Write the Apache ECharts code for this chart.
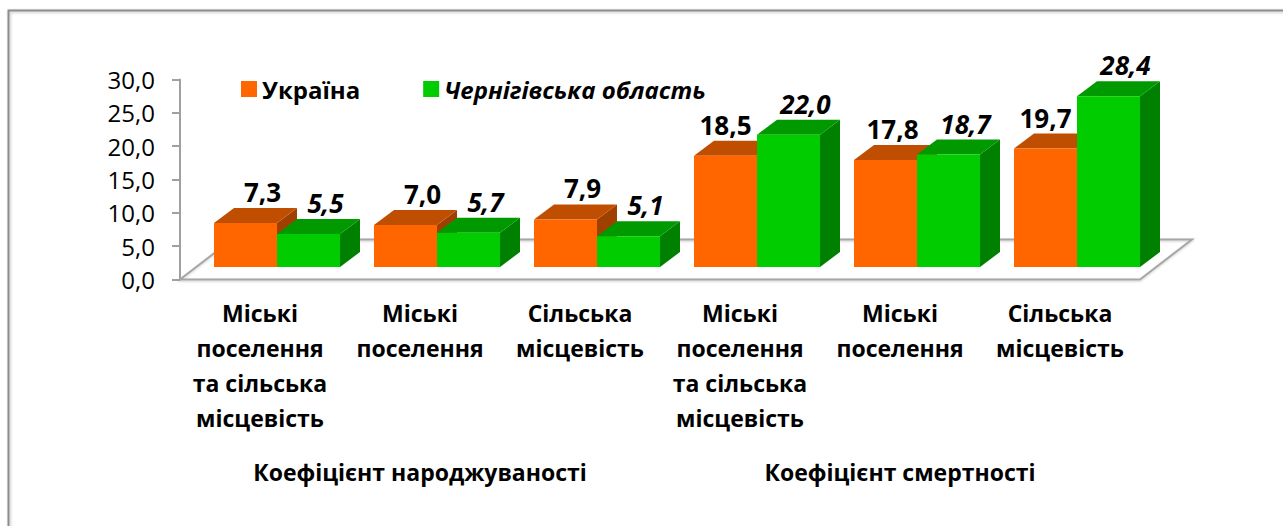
<!DOCTYPE html>
<html><head><meta charset="utf-8">
<script src="https://cdn.jsdelivr.net/npm/echarts@6/dist/echarts.min.js"></script>
<style>html,body{margin:0;padding:0;background:#fff}#c{width:1283px;height:526px}</style>
</head><body><div id="c"></div>
<script>
const categories = [
  'Міські\nпоселення\nта сільська\nмісцевість',
  'Міські\nпоселення',
  'Сільська\nмісцевість',
  'Міські\nпоселення\nта сільська\nмісцевість',
  'Міські\nпоселення',
  'Сільська\nмісцевість'
];
const groups = ['Коефіцієнт народжуваності', 'Коефіцієнт смертності'];
const seriesNames = ['Україна', 'Чернігівська область'];
const ukraine = [7.3, 7.0, 7.9, 18.5, 17.8, 19.7];
const chernihiv = [5.5, 5.7, 5.1, 22.0, 18.7, 28.4];
const yTickLabels = ['0,0', '5,0', '10,0', '15,0', '20,0', '25,0', '30,0'];

const FONT = '"Open Sans", "Noto Sans", sans-serif';
const BAR_W = 63 / 160;   // bar width as share of category
const DX = 20, DY = 15;   // bar depth
const FDX = 52, FDY = 40; // floor depth
const fmt = v => v.toFixed(1).replace('.', ',');

function makeRender(left, cFront, cTop, cSide, italic, layer) {
  return function (params, api) {
    const i = api.value(0), v = api.value(1);
    const p = api.coord([i, v]), b = api.coord([i, 0]);
    const w = api.size([1, 0])[0] * BAR_W;
    const x0 = left ? p[0] - w : p[0];
    const x1 = x0 + w, yt = p[1], yb = b[1];
    let shift = 17;
    if (left) {
      const other = chernihiv[i];
      if (other > v + 2) shift = 0; else if (other > v) shift = 7;
    }
    return {
      type: 'group',
      children: [
        { type: 'polygon', z2: layer, shape: { points: [[x1, yt], [x1 + DX, yt - DY], [x1 + DX, yb - DY], [x1, yb]] }, style: { fill: cSide } },
        { type: 'polygon', z2: layer, shape: { points: [[x0, yt], [x0 + DX, yt - DY], [x1 + DX, yt - DY], [x1, yt]] }, style: { fill: cTop } },
        { type: 'rect', z2: layer, shape: { x: x0, y: yt, width: w, height: yb - yt }, style: { fill: cFront } },
        { type: 'text', z2: 50, x: (x0 + x1) / 2 + shift, y: yt - DY - 3,
          style: { text: fmt(v), fill: '#000', fontFamily: FONT, fontSize: 26, fontWeight: 'bold',
                   fontStyle: italic ? 'italic' : 'normal', align: 'center', verticalAlign: 'bottom' } }
      ]
    };
  };
}

const chart = echarts.init(document.getElementById('c'), null, { renderer: 'svg' });
chart.setOption({
  animation: false,
  backgroundColor: '#fff',
  graphic: [{
    type: 'rect', left: 6, top: 8, shape: { width: 1300, height: 600 },
    style: { fill: 'none', stroke: '#8C8C8C', lineWidth: 2, shadowBlur: 3, shadowColor: 'rgba(0,0,0,0.25)', shadowOffsetX: 1, shadowOffsetY: 1 },
    z: -10
  }],
  legend: {
    left: 236, top: 72, itemWidth: 16, itemHeight: 16, itemGap: 63, icon: 'rect',
    textStyle: { fontFamily: FONT, fontSize: 24, fontWeight: 'bold', color: '#000' },
    data: [
      { name: seriesNames[0] },
      { name: seriesNames[1], textStyle: { fontStyle: 'italic' } }
    ]
  },
  grid: [
    { left: 180, right: 143, top: 79.5, bottom: 246.5 },
    { left: 197, right: 126, top: 86.6, bottom: 259 }
  ],
  xAxis: [
    { type: 'category', gridIndex: 0, data: categories, boundaryGap: true,
      axisLine: { show: false }, axisTick: { show: false },
      axisLabel: { margin: 16, interval: 0, fontFamily: FONT, fontSize: 23, fontWeight: 'bold', color: '#000', lineHeight: 35 } },
    { type: 'category', gridIndex: 0, data: groups, position: 'bottom', offset: 178,
      axisLine: { show: false }, axisTick: { show: false },
      axisLabel: { margin: 0, interval: 0, fontFamily: FONT, fontSize: 23, fontWeight: 'bold', color: '#000', lineHeight: 28 } },
    { type: 'category', gridIndex: 1, data: categories, show: false }
  ],
  yAxis: [
    { type: 'value', gridIndex: 0, min: 0, max: 30, interval: 5,
      splitLine: { show: false },
      axisLine: { show: true, lineStyle: { color: '#A0A0A0', width: 2 } },
      axisTick: { show: true, length: 8, lineStyle: { color: '#A0A0A0', width: 2 } },
      axisLabel: { margin: 25, fontFamily: FONT, fontSize: 24, color: '#000',
                   formatter: v => yTickLabels[Math.round(v / 5)] } },
    { type: 'value', gridIndex: 1, min: 0, max: 30, show: false }
  ],
  series: [
    { type: 'custom', name: 'floor', xAxisIndex: 0, yAxisIndex: 0, z: 1, silent: true,
      data: [[0, 0]],
      renderItem: function (params, api) {
        const cs = params.coordSys;
        const y0 = api.coord([0, 0])[1];
        return { type: 'polygon',
          shape: { points: [[cs.x, y0], [cs.x + cs.width, y0], [cs.x + cs.width + FDX, y0 - FDY], [cs.x + FDX, y0 - FDY]] },
          style: { fill: 'none', stroke: '#A6A6A6', lineWidth: 2, shadowBlur: 2, shadowColor: 'rgba(0,0,0,0.2)', shadowOffsetY: 1 } };
      } },
    { type: 'custom', name: seriesNames[0], xAxisIndex: 2, yAxisIndex: 1, z: 2,
      itemStyle: { color: '#FF6600' },
      data: ukraine.map((v, i) => [i, v]),
      renderItem: makeRender(true, '#FF6600', '#C04E00', '#A04000', false, 1) },
    { type: 'custom', name: seriesNames[1], xAxisIndex: 2, yAxisIndex: 1, z: 2,
      itemStyle: { color: '#00CC00' },
      data: chernihiv.map((v, i) => [i, v]),
      renderItem: makeRender(false, '#00CC00', '#009900', '#008000', true, 2) }
  ]
});
</script></body></html>
